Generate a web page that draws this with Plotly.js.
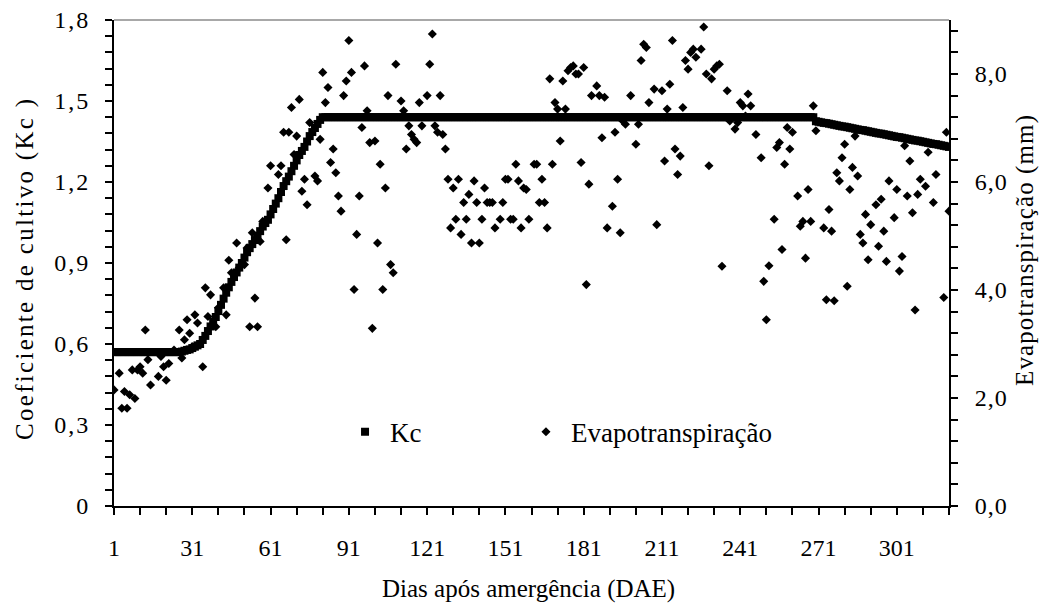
<!DOCTYPE html>
<html>
<head>
<meta charset="utf-8">
<script src="https://cdn.plot.ly/plotly-3.0.1.min.js"></script>
<style>
html,body{margin:0;padding:0;background:#fff;}
#chart{width:1043px;height:605px;}
#chart .ytick text {letter-spacing: 2px;}
#chart .y2tick text {letter-spacing: 1px;}
#chart g.annotation[data-index="1"] text {letter-spacing: 2.3px;}
#chart g.annotation[data-index="2"] text {letter-spacing: 1.1px;}
</style>
</head>
<body>
<div id="chart"></div>
<script>
// Kc per day (days 1..321)
const kcDays = [
1,2,3,4,5,6,7,8,9,10,11,12,13,14,15,16,17,18,19,20,
21,22,23,24,25,26,27,28,29,30,31,32,33,34,35,36,37,38,39,40,
41,42,43,44,45,46,47,48,49,50,51,52,53,54,55,56,57,58,59,60,
61,62,63,64,65,66,67,68,69,70,71,72,73,74,75,76,77,78,79,80,
81,82,83,84,85,86,87,88,89,90,91,92,93,94,95,96,97,98,99,100,
101,102,103,104,105,106,107,108,109,110,111,112,113,114,115,116,117,118,119,120,
121,122,123,124,125,126,127,128,129,130,131,132,133,134,135,136,137,138,139,140,
141,142,143,144,145,146,147,148,149,150,151,152,153,154,155,156,157,158,159,160,
161,162,163,164,165,166,167,168,169,170,171,172,173,174,175,176,177,178,179,180,
181,182,183,184,185,186,187,188,189,190,191,192,193,194,195,196,197,198,199,200,
201,202,203,204,205,206,207,208,209,210,211,212,213,214,215,216,217,218,219,220,
221,222,223,224,225,226,227,228,229,230,231,232,233,234,235,236,237,238,239,240,
241,242,243,244,245,246,247,248,249,250,251,252,253,254,255,256,257,258,259,260,
261,262,263,264,265,266,267,268,269,270,271,272,273,274,275,276,277,278,279,280,
281,282,283,284,285,286,287,288,289,290,291,292,293,294,295,296,297,298,299,300,
301,302,303,304,305,306,307,308,309,310,311,312,313,314,315,316,317,318,319,320,
321];
const kcValues = [
0.57,0.57,0.57,0.57,0.57,0.57,0.57,0.57,0.57,0.57,0.57,0.57,0.57,0.57,0.57,0.57,0.57,0.57,0.57,0.57,
0.57,0.57,0.57,0.57,0.57,0.57,0.572,0.575,0.578,0.58,0.585,0.59,0.595,0.60,0.615,0.63,0.648,0.665,0.683,0.70,
0.722,0.745,0.768,0.79,0.81,0.83,0.848,0.865,0.883,0.90,0.92,0.94,0.955,0.97,0.985,1.00,1.018,1.035,1.048,1.06,
1.08,1.10,1.12,1.14,1.163,1.185,1.203,1.22,1.24,1.26,1.28,1.30,1.315,1.33,1.35,1.37,1.385,1.40,1.415,1.43,
1.44,1.44,1.44,1.44,1.44,1.44,1.44,1.44,1.44,1.44,1.44,1.44,1.44,1.44,1.44,1.44,1.44,1.44,1.44,1.44,
1.44,1.44,1.44,1.44,1.44,1.44,1.44,1.44,1.44,1.44,1.44,1.44,1.44,1.44,1.44,1.44,1.44,1.44,1.44,1.44,
1.44,1.44,1.44,1.44,1.44,1.44,1.44,1.44,1.44,1.44,1.44,1.44,1.44,1.44,1.44,1.44,1.44,1.44,1.44,1.44,
1.44,1.44,1.44,1.44,1.44,1.44,1.44,1.44,1.44,1.44,1.44,1.44,1.44,1.44,1.44,1.44,1.44,1.44,1.44,1.44,
1.44,1.44,1.44,1.44,1.44,1.44,1.44,1.44,1.44,1.44,1.44,1.44,1.44,1.44,1.44,1.44,1.44,1.44,1.44,1.44,
1.44,1.44,1.44,1.44,1.44,1.44,1.44,1.44,1.44,1.44,1.44,1.44,1.44,1.44,1.44,1.44,1.44,1.44,1.44,1.44,
1.44,1.44,1.44,1.44,1.44,1.44,1.44,1.44,1.44,1.44,1.44,1.44,1.44,1.44,1.44,1.44,1.44,1.44,1.44,1.44,
1.44,1.44,1.44,1.44,1.44,1.44,1.44,1.44,1.44,1.44,1.44,1.44,1.44,1.44,1.44,1.44,1.44,1.44,1.44,1.44,
1.44,1.44,1.44,1.44,1.44,1.44,1.44,1.44,1.44,1.44,1.44,1.44,1.44,1.44,1.44,1.44,1.44,1.44,1.44,1.44,
1.44,1.44,1.44,1.44,1.44,1.44,1.44,1.44,1.44,1.425,1.423,1.421,1.419,1.418,1.416,1.414,1.412,1.410,1.408,1.406,
1.405,1.403,1.401,1.399,1.397,1.395,1.393,1.392,1.390,1.388,1.386,1.384,1.382,1.380,1.379,1.377,1.375,1.373,1.371,1.369,
1.367,1.366,1.364,1.362,1.360,1.358,1.356,1.354,1.353,1.351,1.349,1.347,1.345,1.343,1.341,1.340,1.338,1.336,1.334,1.332,
1.330];

// Evapotranspiração (mm) readings
const etDays = [
1,3,4,5,6,7,8,9,10,11,12,13,14,15,18,19,20,21,22,24,
26,27,28,29,30,31,32,33,35,36,37,38,40,41,43,44,45,46,48,49,
51,52,53,54,55,56,57,58,60,61,64,65,66,67,68,69,70,71,72,73,
74,75,76,78,79,80,81,82,83,84,85,86,87,88,89,90,91,92,93,94,
95,96,97,98,99,100,101,102,103,104,105,106,107,108,109,111,112,113,114,115,
116,117,118,119,121,122,123,124,125,126,127,128,129,130,131,132,133,134,135,136,
137,138,139,140,141,142,143,144,145,146,147,149,150,151,152,153,154,155,156,157,
158,159,160,162,163,164,165,166,167,168,169,170,171,172,173,174,175,176,177,178,
179,180,181,182,183,184,186,187,188,189,190,192,193,194,195,196,197,199,201,202,
203,204,205,206,208,209,211,212,213,214,215,216,217,218,219,220,221,222,223,224,
226,227,228,229,230,231,232,233,234,236,237,239,240,241,242,243,244,245,247,249,
250,251,252,254,255,256,257,258,259,260,261,263,264,265,266,267,268,269,270,273,
274,275,276,277,278,279,280,281,282,283,284,285,286,287,288,289,290,291,293,294,
295,296,297,298,300,301,302,303,304,305,306,307,308,309,310,312,313,315,316,319,
320,321];
const etValues = [
2.15,2.46,1.81,2.12,1.81,2.06,2.52,1.99,2.52,2.58,2.46,3.26,2.71,2.24,2.40,2.77,2.58,2.33,2.64,2.89,
3.26,2.74,3.08,3.45,3.20,2.95,3.54,3.39,2.58,4.04,3.51,3.91,3.32,3.67,4.04,3.54,4.55,4.32,4.87,4.41,
4.47,4.78,3.32,5.06,3.85,3.32,4.90,5.27,5.89,6.30,6.14,6.30,6.92,4.93,6.92,7.38,6.51,6.85,7.53,5.83,
6.05,5.58,7.10,6.11,6.02,6.79,8.03,7.47,7.75,6.36,6.61,6.17,5.74,5.46,7.60,7.87,8.62,8.03,4.01,5.03,
5.74,7.01,8.15,7.32,6.73,3.29,6.76,4.87,6.33,4.01,5.89,7.60,4.47,4.32,8.18,7.50,7.32,6.61,7.04,6.88,
6.79,6.73,7.47,7.04,7.60,8.18,8.74,7.04,6.92,7.60,6.88,6.61,6.05,5.15,5.89,5.31,6.05,5.03,5.62,5.31,
5.77,4.87,6.02,5.62,4.87,5.31,5.89,5.62,5.62,5.62,5.15,5.31,5.62,6.05,6.05,5.31,5.31,6.33,6.02,5.15,
5.89,5.86,5.31,6.33,6.33,5.62,6.05,5.62,5.15,7.91,6.33,7.47,7.35,6.76,7.87,7.35,8.06,8.12,8.15,8.00,
8.00,6.36,8.12,4.10,5.96,7.60,7.78,7.60,6.82,7.57,5.15,5.55,6.92,6.05,5.06,7.13,7.07,7.60,6.70,7.07,
8.25,8.55,8.49,7.47,7.72,5.21,7.69,6.39,7.35,7.81,8.62,6.61,6.14,6.48,7.38,8.25,8.09,8.40,8.46,8.31,
8.46,8.87,8.00,6.30,7.91,8.09,8.15,8.18,4.44,7.69,7.13,6.98,7.10,7.47,7.41,7.22,7.63,7.41,6.88,6.45,
4.16,3.45,4.45,5.31,6.64,6.73,4.75,6.33,7.01,6.61,6.92,5.74,5.18,5.27,4.59,5.86,5.27,7.41,6.95,5.15,
3.82,5.49,5.09,3.80,6.17,6.02,6.45,6.70,4.07,5.86,6.27,6.85,6.11,5.03,4.87,5.40,4.56,5.21,5.58,4.81,
5.68,5.09,4.53,6.02,5.34,5.86,4.35,4.62,6.67,5.74,6.39,5.43,3.63,5.77,6.05,5.92,6.55,5.62,6.14,3.86,
6.92,5.46];

const xTitle = 'Dias após amergência (DAE)';
const yTitle = 'Coeficiente de cultivo (Kc )';
const y2Title = 'Evapotranspiração (mm)';
const kcName = 'Kc';
const etName = 'Evapotranspiração';

const FONT = '"Liberation Serif", serif';

const traces = [
  {
    x: kcDays, y: kcValues, name: kcName, type: 'scatter', mode: 'markers',
    marker: {symbol: 'square', size: 8, color: '#000'},
    yaxis: 'y', legend: 'legend', hoverinfo: 'skip'
  },
  {
    x: etDays, y: etValues, name: etName, type: 'scatter', mode: 'markers',
    marker: {symbol: 'diamond', size: 7, color: '#000'},
    yaxis: 'y2', legend: 'legend2', hoverinfo: 'skip'
  }
];

const axisCommon = {
  showgrid: false, zeroline: false, showline: true, linecolor: '#000', linewidth: 2,
  ticks: 'outside', ticklen: 7, tickwidth: 2, tickcolor: '#000',
  tickfont: {family: FONT, size: 24, color: '#000'}, fixedrange: true
};

const layout = {
  width: 1043, height: 605,
  margin: {l: 114, r: 94, t: 20, b: 99, pad: 0},
  paper_bgcolor: '#fff', plot_bgcolor: '#fff',
  separators: ',.',
  showlegend: true,
  font: {family: FONT, size: 22, color: '#000'},
  xaxis: Object.assign({}, axisCommon, {
    range: [1, 321], tick0: 1, dtick: 30, ticklabelstandoff: 12,
    minor: {tick0: 1, dtick: 10, ticks: 'outside', ticklen: 7, tickwidth: 2, tickcolor: '#000'}
  }),
  yaxis: Object.assign({}, axisCommon, {
    range: [0, 1.8], tick0: 0, dtick: 0.3, ticklabelstandoff: 10,
    minor: {tick0: 0, dtick: 0.06, ticks: 'outside', ticklen: 7, tickwidth: 2, tickcolor: '#000'}
  }),
  yaxis2: Object.assign({}, axisCommon, {
    overlaying: 'y', side: 'right', range: [0, 9], tick0: 0, dtick: 2, tickformat: '.1f',
    ticklabelstandoff: 12,
    minor: {tick0: 0, dtick: 0.4, ticks: 'outside', ticklen: 7, tickwidth: 2, tickcolor: '#000'}
  }),
  legend: {x: 0.2707, y: 0.152, xanchor: 'left', yanchor: 'middle', orientation: 'h', itemwidth: 40,
           bgcolor: 'rgba(0,0,0,0)', borderwidth: 0, font: {family: FONT, size: 27, color: '#000'}},
  legend2: {x: 0.4874, y: 0.152, xanchor: 'left', yanchor: 'middle', orientation: 'h', itemwidth: 40,
           bgcolor: 'rgba(0,0,0,0)', borderwidth: 0, font: {family: FONT, size: 27, color: '#000'}},
  shapes: [
    {type: 'line', xref: 'paper', yref: 'paper', x0: 0, x1: 1, y0: 1, y1: 1,
     line: {color: '#a8a8a8', width: 2}}
  ],
  annotations: [
    {text: xTitle, xref: 'paper', yref: 'paper', x: 0.497, y: -0.1714, xanchor: 'center', yanchor: 'middle',
     showarrow: false, font: {family: FONT, size: 25, color: '#000'}},
    {text: yTitle, xref: 'paper', yref: 'paper', x: -0.1066, y: 0.49, xanchor: 'center', yanchor: 'middle',
     textangle: -90, showarrow: false, font: {family: FONT, size: 25, color: '#000'}},
    {text: y2Title, xref: 'paper', yref: 'paper', x: 1.091, y: 0.527, xanchor: 'center', yanchor: 'middle',
     textangle: -90, showarrow: false, font: {family: FONT, size: 25, color: '#000'}}
  ]
};

Plotly.newPlot('chart', traces, layout, {displayModeBar: false, staticPlot: true});
</script>
</body>
</html>
